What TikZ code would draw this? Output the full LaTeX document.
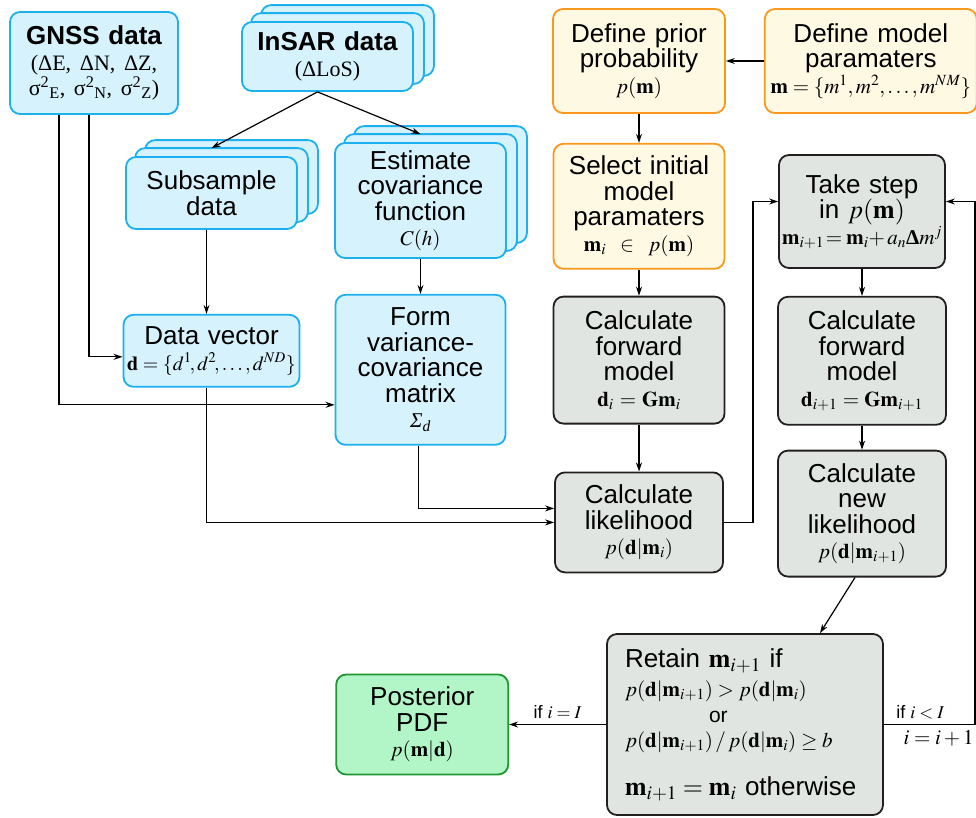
\documentclass[tikz,border=0pt]{standalone}
\usepackage{mathptmx}
\usepackage[no-math]{fontspec}
\setmainfont{Liberation Sans}
\newfontfamily\tms{Liberation Serif}
\usetikzlibrary{positioning,arrows.meta,backgrounds}

\definecolor{bluefill}{RGB}{214,242,252}
\definecolor{blueline}{RGB}{28,176,238}
\definecolor{yellowfill}{RGB}{254,249,227}
\definecolor{orangeline}{RGB}{248,152,29}
\definecolor{greyfill}{RGB}{225,229,226}
\definecolor{greyline}{RGB}{35,31,32}
\definecolor{greenfill}{RGB}{178,246,200}
\definecolor{greenline}{RGB}{30,150,50}

\newcommand{\mvec}{\mathbf{m}}
\newcommand{\dvec}{\mathbf{d}}
\newcommand{\bDelta}{\mbox{\tms\bfseries Δ}}
\newcommand{\eqsize}{\fontsize{21}{25.5}\selectfont}

\tikzset{
  box/.style={rounded corners=10pt, line width=1.8pt, align=center, inner sep=2pt,
    text width=160pt, font=\fontsize{26}{25.5}\selectfont},
  wh/.style 2 args={minimum width=#1pt, minimum height=#2pt},
  bluebox/.style={box, draw=blueline, fill=bluefill},
  yellowbox/.style={box, draw=orangeline, fill=yellowfill},
  greybox/.style={box, draw=greyline, fill=greyfill},
  greenbox/.style={box, draw=greenline, fill=greenfill},
  layer/.style={rounded corners=10pt, line width=1.8pt, draw=blueline, fill=bluefill},
  conn/.style={line width=1.2pt, -{Stealth[length=9pt,width=6pt]}},
  lbl/.style={font=\fontsize{18}{20}\selectfont, inner sep=5pt}
}

\begin{document}
\begin{tikzpicture}[x=1pt, y=1pt]
  \useasboundingbox (0,0) rectangle (976,-817);

  % data
  \node[bluebox, wh={168}{102}] (gnss) at (94,-63) {{\bfseries GNSS data}\\ \tms\fontsize{22}{25.5}\selectfont (ΔE, ΔN, ΔZ,\\ σ\textsuperscript{2}\textsubscript{E}, σ\textsuperscript{2}\textsubscript{N}, σ\textsuperscript{2}\textsubscript{Z})};
  \node[bluebox, wh={171}{69}] (insar) at (327.5,-56.5) {{\bfseries InSAR data}\\ \tms\fontsize{22}{25.5}\selectfont (ΔLoS)};
  \node[bluebox, wh={171}{72}] (subsample) at (211.5,-193) {Subsample\\ data};
  \node[bluebox, wh={175}{72}, text width=172pt] (datavec) [below=84pt of subsample] {Data vector\\ \fontsize{20}{25.5}\selectfont $\dvec = \{d^1\!, d^2\!, \ldots, d^{ND}\}$};
  \node[bluebox, wh={171}{115}] (estimate) at (420.5,-200.5) {Estimate\\ covariance\\ function\\ \eqsize $C(h)$};
  \node[bluebox, wh={170}{150}] (formmat) [below=35pt of estimate] {Form\\ variance-\\ covariance\\ matrix\\ \tms\itshape\eqsize Σ\textsubscript{d}};

  % stacked copies
  \begin{scope}[on background layer]
    \foreach \n in {insar,subsample,estimate}
      \foreach \k in {2,1}
        \draw[layer] ([shift={(10*\k,8*\k)}]\n.south west) rectangle ([shift={(10*\k,8*\k)}]\n.north east);
  \end{scope}

  % prior
  \node[yellowbox, wh={172}{104}] (prior) at (639,-61) {Define prior\\ probability\\ \eqsize $p(\mvec)$};
  \node[yellowbox, wh={212}{104}, text width=205pt] (params) [right=38pt of prior] {Define model\\ paramaters\\ \eqsize $\mvec = \{m^1, m^2, \ldots, m^{NM}\}$};
  \node[yellowbox, wh={171}{125}] (select) [below=29pt of prior] {Select initial\\ model\\ paramaters\\ \eqsize $\mvec_i \ \in\ p(\mvec)$};

  % sampling
  \node[greybox, wh={171}{127}] (fwd1) [below=26pt of select] {Calculate\\ forward\\ model\\ \eqsize $\dvec_i = \mathbf{G}\mvec_i$};
  \node[greybox, wh={168}{100}] (like1) [below=47pt of fwd1] {Calculate\\ likelihood\\ \eqsize $p(\dvec|\mvec_i)$};
  \node[greybox, wh={166}{113}] (step) at (862,-211.5) {Take step\\ in $p(\mvec)$\\ \eqsize $\mvec_{i+1}\!= \mvec_i\!+ a_n\bDelta m^j$};
  \node[greybox, wh={168}{128}] (fwd2) [below=27pt of step] {Calculate\\ forward\\ model\\ \eqsize $\dvec_{i+1} = \mathbf{G}\mvec_{i+1}$};
  \node[greybox, wh={168}{126}] (like2) [below=24pt of fwd2] {Calculate\\ new\\ likelihood\\ \eqsize $p(\dvec|\mvec_{i+1})$};
  \node[greybox, wh={276}{181}, align=left, text width=240pt] (retain) at (745,-724.5) {Retain $\mvec_{i+1}$ if\\[4pt]
    \eqsize $p(\dvec|\mvec_{i+1}) > p(\dvec|\mvec_i)$\\
    \hspace*{84pt}or\\
    $p(\dvec|\mvec_{i+1})\,/\,p(\dvec|\mvec_i) \geq b$\\[22pt]
    \fontsize{26}{25.5}\selectfont $\mvec_{i+1} = \mvec_i$ otherwise};
  \node[greenbox, wh={172}{100}] (post) [left=97pt of retain] {Posterior\\ PDF\\ \eqsize $p(\mvec|\dvec)$};

  \draw[conn] ([xshift=-10pt]insar.south) -- ([yshift=8pt]subsample.north);
  \draw[conn] ([xshift=-10pt]insar.south) -- ([yshift=8pt]estimate.north);
  \draw[conn] ([xshift=-5pt]subsample.south) -- ([xshift=-5pt]datavec.north);
  \draw[conn] (estimate) -- (formmat);
  \draw[conn] ([xshift=-5pt]gnss.south) |- ([yshift=-6pt]datavec.west);
  \draw[conn] ([xshift=-35pt]gnss.south) |- ([yshift=-35pt]formmat.west);
  \draw[conn] ([xshift=-5pt]datavec.south) |- (like1.west);
  \draw[conn] ([xshift=-2pt]formmat.south) |- ([yshift=14pt]like1.west);

  \draw[conn] (params) -- (prior);
  \draw[conn] (prior) -- (select);
  \draw[conn] (select) -- (fwd1);
  \draw[conn] (fwd1) -- (like1);
  \draw[conn] (like1.east) -- ++(29,0) |- ([yshift=10pt]step.west);
  \draw[conn] (step.south) -- (step.south |- fwd2.north);
  \draw[conn] (fwd2.south) -- (fwd2.south |- like2.north);
  \draw[conn] ([xshift=-7pt]like2.south) -- ([xshift=75pt]retain.north);
  \draw[conn] (retain) -- node[lbl, above] {if $i=I$} (post);
  \draw[conn] (retain.east) -- node[lbl, above, pos=0.4] {if $i<I$}
    node[lbl, below, pos=0.6, font=\fontsize{21}{24}\selectfont] {$i=i+1$} ++(91,0)
    |- ([yshift=10pt]step.east);
\end{tikzpicture}
\end{document}
